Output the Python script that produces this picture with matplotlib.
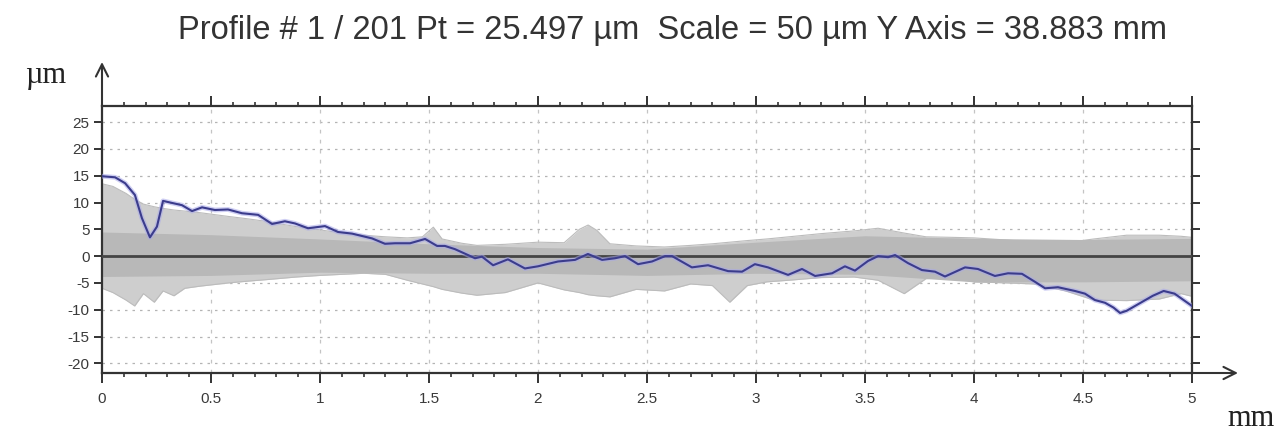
import matplotlib
matplotlib.use("Agg")
import matplotlib.pyplot as plt
import numpy as np

plt.rcParams['axes.unicode_minus'] = False
plt.rcParams['font.family'] = ['Liberation Sans', 'DejaVu Sans']

# ---- data ----
title = "Profile # 1 / 201 Pt = 25.497 µm  Scale = 50 µm Y Axis = 38.883 mm"
x_ticks = [0, 0.5, 1, 1.5, 2, 2.5, 3, 3.5, 4, 4.5, 5]
x_tick_labels = ["0", "0.5", "1", "1.5", "2", "2.5", "3", "3.5", "4", "4.5", "5"]
y_ticks = [-20, -15, -10, -5, 0, 5, 10, 15, 20, 25]
y_tick_labels = ["-20", "-15", "-10", "-5", "0", "5", "10", "15", "20", "25"]

# highlighted profile #1 (blue)
profile_x = [0.000, 0.060, 0.106, 0.151, 0.183, 0.220, 0.252, 0.280, 0.367, 0.413,
             0.459, 0.518, 0.578, 0.642, 0.716, 0.780, 0.839, 0.885, 0.945, 1.023,
             1.083, 1.147, 1.239, 1.298, 1.344, 1.413, 1.482, 1.537, 1.573, 1.619,
             1.679, 1.711, 1.743, 1.794, 1.862, 1.940, 2.000, 2.092, 2.170, 2.229,
             2.294, 2.353, 2.399, 2.459, 2.523, 2.583, 2.615, 2.706, 2.780, 2.872,
             2.936, 2.995, 3.055, 3.147, 3.211, 3.271, 3.349, 3.408, 3.454, 3.514,
             3.560, 3.606, 3.638, 3.697, 3.761, 3.821, 3.867, 3.959, 4.018, 4.096,
             4.156, 4.220, 4.280, 4.326, 4.385, 4.463, 4.509, 4.555, 4.601, 4.640,
             4.670, 4.700, 4.760, 4.820, 4.870, 4.920, 5.000]
profile_y = [14.9, 14.7, 13.6, 11.4, 7.1, 3.5, 5.5, 10.3, 9.5, 8.4,
             9.1, 8.6, 8.7, 8.0, 7.7, 6.0, 6.5, 6.1, 5.2, 5.6,
             4.5, 4.2, 3.3, 2.3, 2.4, 2.4, 3.2, 1.9, 1.9, 1.3,
             0.2, -0.4, -0.1, -1.7, -0.6, -2.3, -1.9, -1.0, -0.7, 0.4,
             -0.7, -0.4, 0.0, -1.5, -1.0, 0.0, 0.0, -2.1, -1.7, -2.8,
             -2.9, -1.5, -2.1, -3.5, -2.4, -3.7, -3.2, -1.9, -2.7, -0.9,
             0.0, -0.2, 0.2, -1.3, -2.6, -2.9, -3.8, -2.1, -2.4, -3.7,
             -3.2, -3.3, -4.8, -6.0, -5.8, -6.5, -7.0, -8.2, -8.7, -9.6,
             -10.6, -10.2, -8.8, -7.4, -6.5, -7.0, -9.3]

# envelope of the other 200 profiles (grey)
env_x = [0.00, 0.05, 0.11, 0.15, 0.19, 0.24, 0.28, 0.33, 0.38, 0.45, 0.58, 0.66,
         0.75, 0.89, 1.00, 1.10, 1.20, 1.30, 1.40, 1.47, 1.52, 1.56, 1.65, 1.72,
         1.85, 2.00, 2.12, 2.19, 2.23, 2.27, 2.33, 2.45, 2.58, 2.70, 2.80, 2.88,
         2.96, 3.05, 3.15, 3.30, 3.45, 3.56, 3.68, 3.78, 3.90, 4.00, 4.15, 4.28,
         4.42, 4.55, 4.70, 4.85, 4.95, 5.00]
env_upper = [13.5, 13.0, 11.7, 10.6, 9.7, 9.2, 8.9, 8.6, 8.4, 8.1, 7.4, 7.0,
             6.5, 5.5, 4.9, 4.3, 3.9, 3.6, 3.4, 3.6, 5.4, 3.2, 2.4, 2.0,
             2.2, 2.6, 2.5, 5.0, 5.8, 4.8, 2.3, 1.9, 1.7, 2.0, 2.3, 2.6,
             2.9, 3.2, 3.6, 4.2, 4.7, 5.2, 4.3, 3.6, 3.5, 3.4, 3.0, 2.6,
             2.5, 3.2, 3.9, 3.9, 3.7, 3.5]
env_lower = [-6.0, -6.8, -8.2, -9.3, -7.0, -8.6, -6.5, -7.4, -6.0, -5.6, -5.0, -4.7,
             -4.4, -3.9, -3.6, -3.4, -3.2, -3.4, -4.5, -5.2, -5.7, -6.2, -6.9, -7.3,
             -6.8, -5.0, -6.3, -6.8, -7.2, -7.4, -7.6, -6.2, -6.5, -5.2, -5.5, -8.6,
             -5.5, -4.8, -4.5, -4.0, -3.9, -4.5, -7.0, -4.2, -4.0, -4.8, -5.0, -5.2,
             -6.5, -8.2, -8.3, -8.0, -7.0, -7.5]

# dense core of the grey band
core_x = [0.0, 0.5, 1.0, 1.5, 2.0, 2.5, 3.0, 3.5, 4.0, 4.5, 5.0]
core_upper = [4.5, 4.0, 3.2, 2.3, 1.6, 1.3, 2.6, 3.8, 3.3, 3.1, 3.3]
core_lower = [-3.8, -3.6, -3.0, -3.2, -3.2, -3.6, -3.2, -3.4, -4.8, -4.8, -4.6]

# ---- figure ----
W, H = 1283, 432
fig = plt.figure(figsize=(W / 100, H / 100), dpi=100)
fig.patch.set_facecolor('white')
L, R, T, B = 102, 1192, 106, 373
ax = fig.add_axes([L / W, 1 - B / H, (R - L) / W, (B - T) / H])
ax.set_xlim(0, 5)
ax.set_ylim(-21.8, 28.0)

# grid
for yv in y_ticks:
    ax.axhline(yv, color='#b4b4b4', lw=0.9, ls=(0, (2, 4)), zorder=0)
for xv in x_ticks[1:-1]:
    ax.axvline(xv, color='#c4c4c4', lw=0.9, ls=(0, (3, 5)), zorder=0)

# grey band
ax.fill_between(env_x, env_lower, env_upper, color='#cecece', lw=0, zorder=1)
ax.plot(env_x, env_upper, color='#bcbcbc', lw=0.8, zorder=1)
ax.plot(env_x, env_lower, color='#bcbcbc', lw=0.8, zorder=1)
ax.fill_between(core_x, core_lower, core_upper, color='#b8b8b8', lw=0, zorder=1)

# zero line
ax.axhline(0, color='#444444', lw=2.0, zorder=3)

# profile 1
ax.plot(profile_x, profile_y, color='#a8a8ea', lw=3.5, alpha=0.55, zorder=4,
        solid_joinstyle='round')
ax.plot(profile_x, profile_y, color='#3b3c8c', lw=1.5, zorder=5,
        solid_joinstyle='round')

# spines / ticks
for s in ax.spines.values():
    s.set_color('#333333')
    s.set_linewidth(1.6)
ax.set_xticks(x_ticks)
ax.set_xticklabels(x_tick_labels)
ax.set_xticks(np.arange(0, 5.0001, 0.1), minor=True)
ax.set_yticks(y_ticks)
ax.set_yticklabels(y_tick_labels)
ax.tick_params(axis='x', which='major', direction='out', length=7, width=1.4,
               colors='#333333', top=True, labelsize=11, pad=7)
ax.tick_params(axis='x', which='minor', direction='out', length=3, width=1.2,
               colors='#333333', top=True)
ax.tick_params(axis='y', which='major', direction='out', length=6, width=1.4,
               colors='#333333', right=True, labelsize=11, pad=3)
for lab in ax.get_xticklabels() + ax.get_yticklabels():
    lab.set_color('#3a3a3a')

# arrows extending the axes
ax.annotate('', xy=(0, 1 + (T - 62) / (B - T)), xytext=(0, 1),
            xycoords='axes fraction', annotation_clip=False,
            arrowprops=dict(arrowstyle='->', lw=1.5, color='#333333',
                            mutation_scale=22, shrinkA=0, shrinkB=0))
ax.annotate('', xy=(1 + (1238 - R) / (R - L), 0), xytext=(1, 0),
            xycoords='axes fraction', annotation_clip=False,
            arrowprops=dict(arrowstyle='->', lw=1.5, color='#333333',
                            mutation_scale=22, shrinkA=0, shrinkB=0))

# texts
fig.text(672 / W, 1 - 31 / H, title, ha='center', va='center',
         fontsize=23.5, color='#333333')
fig.text(46 / W, 1 - 76 / H, 'µm', ha='center', va='center',
         fontsize=22, family=['Liberation Serif', 'DejaVu Serif'], color='#222222')
fig.text(1251 / W, 1 - 418 / H, 'mm', ha='center', va='center',
         fontsize=22, family=['Liberation Serif', 'DejaVu Serif'], color='#222222')

fig.savefig('out.png', dpi=100, facecolor='white')
